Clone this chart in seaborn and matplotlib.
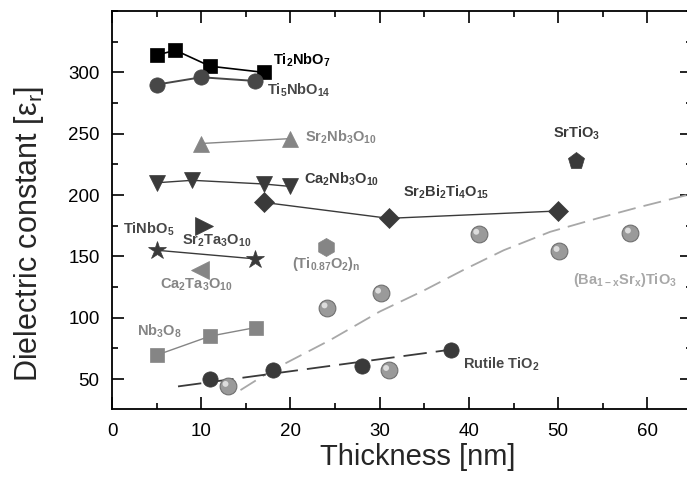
import matplotlib
matplotlib.use("Agg")
import matplotlib.pyplot as plt
import seaborn as sns
import pandas as pd
from matplotlib.ticker import MultipleLocator
from matplotlib.transforms import offset_copy

# ---------------- data ----------------
ti2nbo7_x = [5.0, 7.1, 11.0, 17.0]
ti2nbo7_y = [314, 318, 305, 300]

ti5nbo14_x = [5.0, 10.0, 16.0]
ti5nbo14_y = [290, 296, 293]

sr2nb3o10_x = [10.0, 20.0]
sr2nb3o10_y = [242, 246]

ca2nb3o10_x = [5.0, 9.0, 17.0, 20.0]
ca2nb3o10_y = [210, 212, 209, 207]

sr2bi2ti4o15_x = [17.0, 31.0, 50.0]
sr2bi2ti4o15_y = [194, 181, 187]

srtio3_x = [52.0]
srtio3_y = [228]

tinbo5_x = [5.0, 16.0]
tinbo5_y = [155, 148]

sr2ta3o10_x = [10.3]
sr2ta3o10_y = [175]

ca2ta3o10_x = [9.9]
ca2ta3o10_y = [139]

ti087o2_x = [24.0]
ti087o2_y = [158]

nb3o8_x = [5.0, 11.0, 16.1]
nb3o8_y = [69.5, 85, 92]

rutile_x = [11.0, 18.0, 28.0, 38.0]
rutile_y = [50, 57, 61, 74]
rutile_fit_x = [7.4, 38.0]
rutile_fit_y = [44, 74]

bst_x = [13.0, 24.1, 30.1, 31.0, 41.1, 50.1, 58.1]
bst_y = [44, 108, 120, 57, 168, 154, 169]
bst_fit_x = [14.4, 17.9, 24.5, 30.0, 34.9, 39.4, 43.9, 49.1, 54.4, 59.0, 65.0]
bst_fit_y = [41, 57, 82, 105, 122, 139, 155, 170, 181, 190, 201]

x_ticks = [0, 10, 20, 30, 40, 50, 60]
y_ticks = [50, 100, 150, 200, 250, 300]

# ---------------- style ----------------
sns.set_theme(style="ticks")
plt.rcParams["font.family"] = ["Liberation Sans", "DejaVu Sans"]
plt.rcParams["mathtext.fontset"] = "custom"
plt.rcParams["mathtext.rm"] = "Liberation Sans"
plt.rcParams["mathtext.default"] = "regular"

BLACK = "#000000"
DARK = "#3a3a3a"
DARK2 = "#474747"
GRAY = "#858585"
LGRAY = "#a8a8a8"

fig = plt.figure(figsize=(6.87, 4.92), dpi=100)
ax = fig.add_axes([112 / 687, 83 / 492, 580 / 687, 398 / 492])


def series(x, y, marker, ms, color, lw=1.0, lcolor=None, ls="-"):
    sns.lineplot(x=x, y=y, ax=ax, sort=False, errorbar=None,
                 marker=marker, markersize=ms, color=lcolor or color,
                 markerfacecolor=color, markeredgecolor=color,
                 markeredgewidth=0.5, linewidth=lw, linestyle=ls, zorder=4)


# fit lines
sns.lineplot(x=bst_fit_x, y=bst_fit_y, ax=ax, sort=False, errorbar=None,
             color=LGRAY, linewidth=1.3, linestyle=(0, (10, 4.5)), zorder=2)
sns.lineplot(x=rutile_fit_x, y=rutile_fit_y, ax=ax, sort=False, errorbar=None,
             color=DARK, linewidth=1.3, linestyle=(0, (13, 5)), zorder=2)

series(ti2nbo7_x, ti2nbo7_y, "s", 10.5, BLACK, lw=1.2)
series(ti5nbo14_x, ti5nbo14_y, "o", 11, DARK2, lw=1.4)
series(sr2nb3o10_x, sr2nb3o10_y, "^", 12, GRAY, lw=1.0)
series(ca2nb3o10_x, ca2nb3o10_y, "v", 12, DARK, lw=1.0)
series(sr2bi2ti4o15_x, sr2bi2ti4o15_y, "D", 10.5, DARK, lw=1.0)
series(srtio3_x, srtio3_y, "p", 12.5, DARK, lw=0)
series(tinbo5_x, tinbo5_y, "*", 13.5, DARK, lw=1.0)
series(sr2ta3o10_x, sr2ta3o10_y, ">", 12.5, DARK, lw=0)
series(ca2ta3o10_x, ca2ta3o10_y, "<", 13, GRAY, lw=0)
series(ti087o2_x, ti087o2_y, "h", 13, GRAY, lw=0)
series(nb3o8_x, nb3o8_y, "s", 10.5, GRAY, lw=1.0)
series(rutile_x, rutile_y, "o", 11, DARK, lw=0)

# shaded spheres for (Ba,Sr)TiO3
sns.scatterplot(x=bst_x, y=bst_y, ax=ax, s=145, color="#9a9a9a",
                edgecolor="#707070", linewidth=0.8, zorder=5)
sns.scatterplot(x=bst_x, y=bst_y, ax=ax, s=18, color="#dcdcdc",
                edgecolor="none", linewidth=0, zorder=6,
                transform=offset_copy(ax.transData, fig=fig, x=-2.5, y=2.5, units="dots"))

# ---------------- labels ----------------
lab = dict(fontsize=10.5, fontweight="bold", va="center", ha="left", zorder=7)
ax.text(18.0, 310, r"Ti$_2$NbO$_7$", color=BLACK, **lab)
ax.text(17.4, 285, r"Ti$_5$NbO$_{14}$", color=DARK2, **lab)
ax.text(21.6, 247, r"Sr$_2$Nb$_3$O$_{10}$", color=GRAY, **lab)
ax.text(21.5, 213, r"Ca$_2$Nb$_3$O$_{10}$", color=DARK, **lab)
ax.text(32.6, 202, r"Sr$_2$Bi$_2$Ti$_4$O$_{15}$", color=DARK, **lab)
ax.text(49.4, 250, r"SrTiO$_3$", color=DARK, **lab)
ax.text(1.2, 172, r"TiNbO$_5$", color=DARK2, **lab)
ax.text(7.85, 163, r"Sr$_2$Ta$_3$O$_{10}$", color=DARK2, **lab)
ax.text(5.4, 127, r"Ca$_2$Ta$_3$O$_{10}$", color=GRAY, **lab)
ax.text(20.2, 144, r"(Ti$_{0.87}$O$_2$)$_n$", color=GRAY, **lab)
ax.text(2.8, 89, r"Nb$_3$O$_8$", color=GRAY, **lab)
ax.text(39.35, 62, r"Rutile TiO$_2$", color=DARK2, **lab)
ax.text(51.7, 131, r"(Ba$_{1-x}$Sr$_x$)TiO$_3$", color=LGRAY, **lab)

# ---------------- axes ----------------
ax.set_xlim(0, 65)
ax.set_ylim(25.6, 350)
ax.set_xticks(x_ticks)
ax.set_yticks(y_ticks)
ax.xaxis.set_minor_locator(MultipleLocator(5))
ax.yaxis.set_minor_locator(MultipleLocator(25))
ax.tick_params(which="both", direction="in", top=True, right=True,
               width=1.2, colors="black", labelsize=13.5)
ax.tick_params(axis="x", pad=10)
ax.tick_params(axis="y", pad=9)
ax.tick_params(which="major", length=8.6)
ax.tick_params(which="minor", length=4.3)
for sp in ax.spines.values():
    sp.set_linewidth(1.3)
    sp.set_color("black")

ax.set_xlabel("Thickness [nm]", fontsize=21)
ax.set_ylabel(r"Dielectric constant [ε$_r$]", fontsize=22)
ax.xaxis.set_label_coords(0.528, -0.085)
ax.yaxis.set_label_coords(-0.113, 0.44)

fig.savefig("out.png", dpi=100)
